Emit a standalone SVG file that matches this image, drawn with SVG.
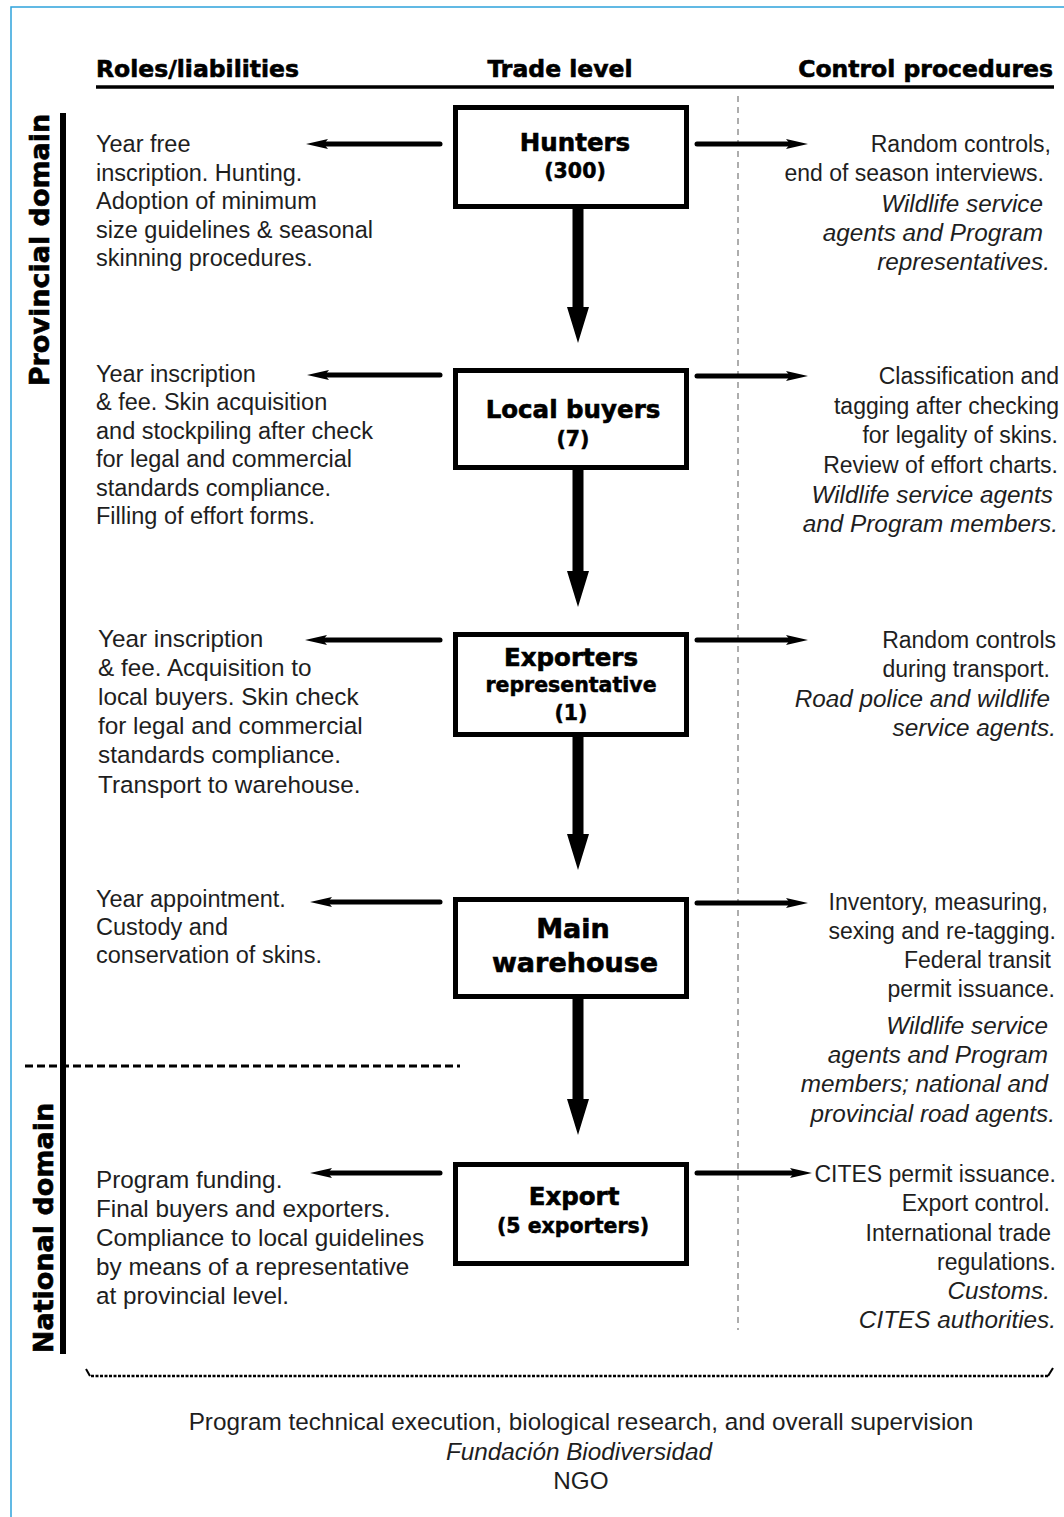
<svg xmlns="http://www.w3.org/2000/svg" width="1064" height="1517" viewBox="0 0 1064 1517">
<style>
  text { fill: #1e1e1e; }
  .hdr { font-family: "DejaVu Sans", "Liberation Sans", sans-serif; font-weight: bold; font-size: 23.5px; fill: #000; stroke: #000; stroke-width: 0.6px; }
  .dom { font-family: "DejaVu Sans", "Liberation Sans", sans-serif; font-weight: bold; font-size: 27px; text-anchor: middle; fill: #000; stroke: #000; stroke-width: 0.6px; }
  .bt { font-family: "DejaVu Sans", "Liberation Sans", sans-serif; font-weight: bold; font-size: 24.5px; text-anchor: middle; fill: #000; stroke: #000; stroke-width: 0.6px; }
  .bt2 { font-family: "DejaVu Sans", "Liberation Sans", sans-serif; font-weight: bold; font-size: 20.5px; text-anchor: middle; fill: #000; stroke: #000; stroke-width: 0.5px; }
  .bt3 { font-family: "DejaVu Sans", "Liberation Sans", sans-serif; font-weight: bold; font-size: 27px; text-anchor: middle; fill: #000; stroke: #000; stroke-width: 0.6px; }
  .l { font-family: "Liberation Sans", Arial, sans-serif; font-size: 23.5px; }
  .l.big { font-size: 24.3px; }
  .r { font-family: "Liberation Sans", Arial, sans-serif; font-size: 23px; text-anchor: end; }
  .r.i { font-size: 24.3px; }
  .i { font-style: italic; }
  .bot { font-family: "Liberation Sans", Arial, sans-serif; font-size: 24.3px; text-anchor: middle; }
  .box { fill: #fff; stroke: #000; stroke-width: 5; }
  .harr { stroke: #000; stroke-width: 5; stroke-linecap: round; fill: none; marker-end: url(#barb); }
  .varr { fill: #000; stroke: none; }
</style>
<defs>
  <marker id="barb" markerUnits="userSpaceOnUse" markerWidth="30" markerHeight="14" refX="4" refY="0" orient="auto" overflow="visible">
    <path d="M22,0 L0,-5 L4,0 L0,5 Z" fill="#000"/>
  </marker>
</defs>
<rect x="11" y="7" width="1100" height="1600" fill="none" stroke="#2ea3dc" stroke-width="1.5"/>

<g id="headers">
  <text class="hdr" x="96" y="77">Roles/liabilities</text>
  <text class="hdr" x="560" y="77" text-anchor="middle">Trade level</text>
  <text class="hdr" x="1053" y="77" text-anchor="end">Control procedures</text>
  <line x1="96" y1="87" x2="1054" y2="87" stroke="#000" stroke-width="3.5"/>
</g>

<g id="domains">
  <line x1="63" y1="113" x2="63" y2="1354" stroke="#000" stroke-width="6"/>
  <text class="dom" transform="translate(49,250) rotate(-90)">Provincial domain</text>
  <text class="dom" transform="translate(53,1228) rotate(-90)">National domain</text>
  <line x1="25" y1="1066" x2="460" y2="1066" stroke="#000" stroke-width="3" stroke-dasharray="8 4"/>
  <line x1="738" y1="96" x2="738" y2="1330" stroke="#777" stroke-width="1.2" stroke-dasharray="6 5"/>
</g>

<g id="connectors">
  <path class="varr" d="M572.5,207 H583.5 V307 H589 L578,343 L567,307 H572.5 Z"/>
  <path class="varr" d="M572.5,469 H583.5 V571 H589 L578,607 L567,571 H572.5 Z"/>
  <path class="varr" d="M572.5,735 H583.5 V834 H589 L578,870 L567,834 H572.5 Z"/>
  <path class="varr" d="M572.5,997 H583.5 V1099 H589 L578,1135 L567,1099 H572.5 Z"/>
  <line class="harr" x1="440" y1="144" x2="324" y2="144"/>
  <line class="harr" x1="440" y1="375" x2="325" y2="375"/>
  <line class="harr" x1="440" y1="640" x2="323" y2="640"/>
  <line class="harr" x1="440" y1="902" x2="328" y2="902"/>
  <line class="harr" x1="440" y1="1173" x2="328" y2="1173"/>
  <line class="harr" x1="697" y1="144" x2="790" y2="144"/>
  <line class="harr" x1="697" y1="376" x2="790" y2="376"/>
  <line class="harr" x1="697" y1="640" x2="790" y2="640"/>
  <line class="harr" x1="697" y1="903" x2="790" y2="903"/>
  <line class="harr" x1="697" y1="1173" x2="794" y2="1173"/>
</g>

<g id="node-hunters">
  <rect class="box" x="455.5" y="107.5" width="231" height="99"/>
  <text class="bt" x="575" y="151">Hunters</text>
  <text class="bt2" x="575" y="178">(300)</text>
</g>
<g id="node-local-buyers">
  <rect class="box" x="455.5" y="370.5" width="231" height="97"/>
  <text class="bt" x="573" y="418">Local buyers</text>
  <text class="bt2" x="573" y="446">(7)</text>
</g>
<g id="node-exporters-representative">
  <rect class="box" x="455.5" y="634.5" width="231" height="100"/>
  <text class="bt" x="571" y="666">Exporters</text>
  <text class="bt2" x="571" y="692">representative</text>
  <text class="bt2" x="571" y="720">(1)</text>
</g>
<g id="node-main-warehouse">
  <rect class="box" x="455.5" y="899.5" width="231" height="97"/>
  <text class="bt3" x="573" y="938">Main</text>
  <text class="bt3" x="575" y="972">warehouse</text>
</g>
<g id="node-export">
  <rect class="box" x="455.5" y="1164.5" width="231" height="99"/>
  <text class="bt" x="574" y="1205">Export</text>
  <text class="bt2" x="573" y="1233">(5 exporters)</text>
</g>

<g id="roles-hunters" class="l">
  <text x="96" y="152">Year free</text>
  <text x="96" y="181">inscription. Hunting.</text>
  <text x="96" y="209">Adoption of minimum</text>
  <text x="96" y="238">size guidelines &amp; seasonal</text>
  <text x="96" y="266">skinning procedures.</text>
</g>
<g id="roles-local-buyers" class="l">
  <text x="96" y="382">Year inscription</text>
  <text x="96" y="410">&amp; fee. Skin acquisition</text>
  <text x="96" y="439">and stockpiling after check</text>
  <text x="96" y="467">for legal and commercial</text>
  <text x="96" y="496">standards compliance.</text>
  <text x="96" y="524">Filling of effort forms.</text>
</g>
<g id="roles-exporters" class="l big">
  <text x="98" y="647">Year inscription</text>
  <text x="98" y="676">&amp; fee. Acquisition to</text>
  <text x="98" y="705">local buyers. Skin check</text>
  <text x="98" y="734">for legal and commercial</text>
  <text x="98" y="763">standards compliance.</text>
  <text x="98" y="793">Transport to warehouse.</text>
</g>
<g id="roles-warehouse" class="l">
  <text x="96" y="907">Year appointment.</text>
  <text x="96" y="935">Custody and</text>
  <text x="96" y="963">conservation of skins.</text>
</g>
<g id="roles-export" class="l big">
  <text x="96" y="1188">Program funding.</text>
  <text x="96" y="1217">Final buyers and exporters.</text>
  <text x="96" y="1246">Compliance to local guidelines</text>
  <text x="96" y="1275">by means of a representative</text>
  <text x="96" y="1304">at provincial level.</text>
</g>

<g id="control-hunters" class="r">
  <text x="1051" y="152">Random controls,</text>
  <text x="1044" y="181">end of season interviews.</text>
  <text class="r i" x="1043" y="212">Wildlife service</text>
  <text class="r i" x="1043" y="241">agents and Program</text>
  <text class="r i" x="1050" y="270">representatives.</text>
</g>
<g id="control-local-buyers" class="r">
  <text x="1059" y="384">Classification and</text>
  <text x="1059" y="414">tagging after checking</text>
  <text x="1058" y="443">for legality of skins.</text>
  <text x="1058" y="473">Review of effort charts.</text>
  <text class="r i" x="1053" y="503">Wildlife service agents</text>
  <text class="r i" x="1058" y="532">and Program members.</text>
</g>
<g id="control-exporters" class="r">
  <text x="1056" y="648">Random controls</text>
  <text x="1050" y="677">during transport.</text>
  <text class="r i" x="1050" y="707">Road police and wildlife</text>
  <text class="r i" x="1056" y="736">service agents.</text>
</g>
<g id="control-warehouse" class="r">
  <text x="1048" y="910">Inventory, measuring,</text>
  <text x="1056" y="939">sexing and re-tagging.</text>
  <text x="1051" y="968">Federal transit</text>
  <text x="1055" y="997">permit issuance.</text>
  <text class="r i" x="1048" y="1034">Wildlife service</text>
  <text class="r i" x="1048" y="1063">agents and Program</text>
  <text class="r i" x="1048" y="1092">members; national and</text>
  <text class="r i" x="1055" y="1122">provincial road agents.</text>
</g>
<g id="control-export" class="r">
  <text x="1056" y="1182">CITES permit issuance.</text>
  <text x="1050" y="1211">Export control.</text>
  <text x="1051" y="1241">International trade</text>
  <text x="1056" y="1270">regulations.</text>
  <text class="r i" x="1050" y="1299">Customs.</text>
  <text class="r i" x="1056" y="1328">CITES authorities.</text>
</g>

<g id="supervision">
  <path d="M86,1369 L90,1376" stroke="#000" stroke-width="2" fill="none"/>
  <line x1="91" y1="1376" x2="1048" y2="1376" stroke="#000" stroke-width="2.5" stroke-dasharray="3 1.5"/>
  <path d="M1048,1376 L1053,1368" stroke="#000" stroke-width="2" fill="none"/>
  <text class="bot" x="581" y="1430">Program technical execution, biological research, and overall supervision</text>
  <text class="bot i" x="579" y="1460">Fundación Biodiversidad</text>
  <text class="bot" x="581" y="1489">NGO</text>
</g>
</svg>
